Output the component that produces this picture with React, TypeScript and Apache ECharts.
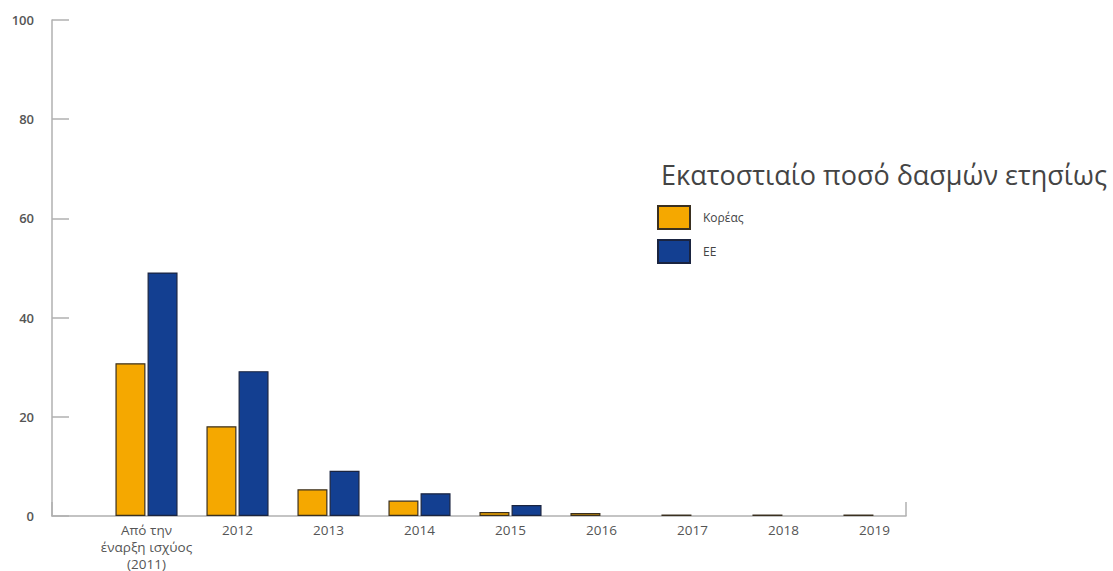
import React, { useEffect, useRef } from "react";
import * as echarts from "echarts";

const categories = [
  "Από την\nέναρξη ισχύος\n(2011)",
  "2012",
  "2013",
  "2014",
  "2015",
  "2016",
  "2017",
  "2018",
  "2019",
];
const koreaValues = [30.8, 18.1, 5.4, 3.1, 0.8, 0.6, 0.3, 0.3, 0.3];
const euValues = [49.1, 29.2, 9.1, 4.6, 2.2, 0, 0, 0, 0];
const yTicks = [0, 20, 40, 60, 80, 100];
const seriesNames = ["Κορέας", "ΕΕ"];
const titleText = "Εκατοστιαίο ποσό δασμών ετησίως";

const FONT = "'Open Sans', 'Noto Sans', sans-serif";
const AXIS = "#b0b0b0";
const LABEL = "#555555";

export default function App() {
  const ref = useRef<HTMLDivElement>(null);
  useEffect(() => {
    document.body.style.margin = "0";
    const chart = echarts.init(ref.current!, undefined, { renderer: "svg" });
    chart.setOption({
      animation: false,
      backgroundColor: "#ffffff",
      textStyle: { fontFamily: FONT },
      title: {
        text: titleText,
        left: 661,
        top: 161,
        padding: 0,
        textStyle: { fontFamily: FONT, fontSize: 27, fontWeight: 400, color: "#444444" },
      },
      legend: {
        orient: "vertical",
        left: 657,
        top: 205,
        padding: 0,
        itemWidth: 32,
        itemHeight: 23,
        itemGap: 9,
        icon: "rect",
        data: seriesNames,
        textStyle: { fontFamily: FONT, fontSize: 12, fontWeight: 500, color: "#444444", padding: [0, 0, 0, 8] },
      },
      grid: [
        { left: 52, right: 207, top: 20, bottom: 55, outerBoundsMode: "none" },
        { left: 101, right: 193, top: 20, bottom: 55, outerBoundsMode: "none" },
      ],
      xAxis: [
        {
          type: "value",
          gridIndex: 0,
          min: 0,
          max: 1,
          interval: 1,
          axisLine: { show: true, onZero: false, lineStyle: { color: AXIS, width: 1.5 } },
          axisTick: { show: true, inside: true, length: 14, lineStyle: { color: AXIS, width: 1.5 } },
          axisLabel: { show: false },
          splitLine: { show: false },
        },
        {
          type: "category",
          gridIndex: 1,
          data: categories,
          axisLine: { show: false },
          axisTick: { show: false },
          axisLabel: {
            color: LABEL,
            fontFamily: FONT,
            fontSize: 13.5,
            lineHeight: 17,
            margin: 5,
            interval: 0,
          },
        },
      ],
      yAxis: [
        {
          type: "value",
          gridIndex: 0,
          min: 0,
          max: 100,
          interval: 20,
          axisLine: { show: true, lineStyle: { color: AXIS, width: 1.5 } },
          axisTick: { show: true, inside: true, length: 17, lineStyle: { color: AXIS, width: 1.5 } },
          axisLabel: {
            color: LABEL,
            fontFamily: FONT,
            fontSize: 13,
            fontWeight: 600,
            margin: 18,
            customValues: yTicks,
          },
          splitLine: { show: false },
        },
        {
          type: "value",
          gridIndex: 1,
          min: 0,
          max: 100,
          interval: 20,
          show: false,
        },
      ],
      series: [
        {
          name: seriesNames[0],
          type: "bar",
          xAxisIndex: 1,
          yAxisIndex: 1,
          data: koreaValues,
          barWidth: 30,
          barGap: "7%",
          itemStyle: { color: "#F5A800", borderColor: "#3a3020", borderWidth: 1.2 },
        },
        {
          name: seriesNames[1],
          type: "bar",
          xAxisIndex: 1,
          yAxisIndex: 1,
          data: euValues.map((v) => (v === 0 ? null : v)),
          barWidth: 30,
          barGap: "7%",
          itemStyle: { color: "#133F91", borderColor: "#1a2440", borderWidth: 1.2 },
        },
      ],
    });
    return () => chart.dispose();
  }, []);
  return <div ref={ref} style={{ width: 1113, height: 571 }} />;
}
